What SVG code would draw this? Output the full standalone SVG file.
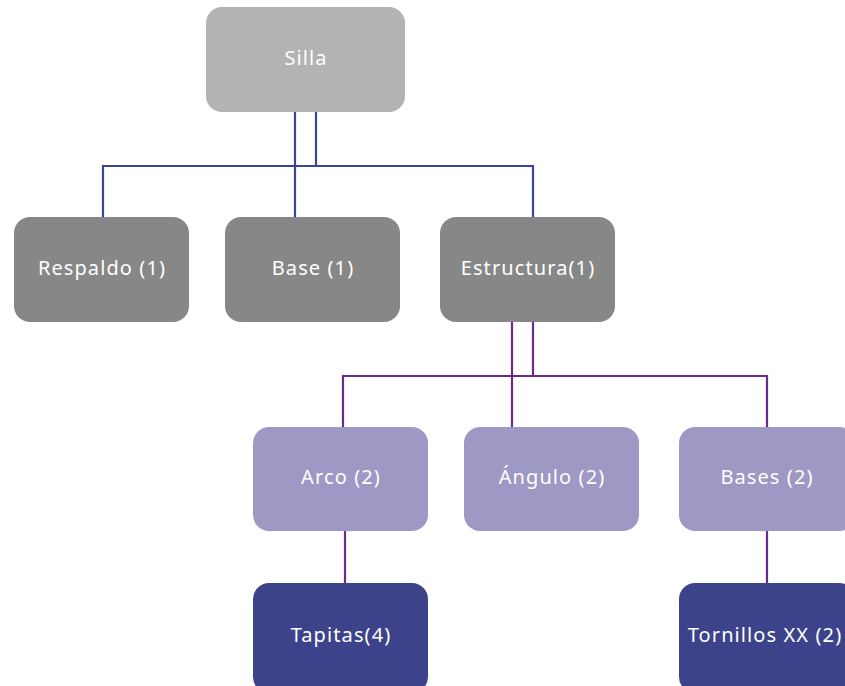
<svg xmlns="http://www.w3.org/2000/svg" width="845" height="686" viewBox="0 0 845 686">
<style>
.t{font-family:"Noto Sans","DejaVu Sans",sans-serif;font-size:20px;letter-spacing:1.1px;fill:#ffffff;text-anchor:middle;dominant-baseline:central}
.l1{stroke:#3b4593;stroke-width:2.2;fill:none}
.l2{stroke:#6b2a8e;stroke-width:2.2;fill:none}
.g1{fill:#b3b3b3}.g2{fill:#878787}.g3{fill:#9d99c4}.g4{fill:#3d438a}
</style>
<rect width="845" height="686" fill="#ffffff"/>
<g id="connectors">
<path class="l1" d="M295 112V217M316 112V166M103 217V166H533V217"/>
<path class="l2" d="M512 322V427M533 322V376M343 427V376H767V427"/>
<path class="l2" d="M345 531V583M767 531V583"/>
</g>
<g id="silla"><rect class="g1" x="206" y="7" width="199" height="105" rx="16"/><text class="t" x="306" y="57">Silla</text></g>
<g id="respaldo"><rect class="g2" x="14" y="217" width="175" height="105" rx="16"/><text class="t" x="102" y="267">Respaldo (1)</text></g>
<g id="base"><rect class="g2" x="225" y="217" width="175" height="105" rx="16"/><text class="t" x="313" y="267">Base (1)</text></g>
<g id="estructura"><rect class="g2" x="440" y="217" width="175" height="105" rx="16"/><text class="t" x="528" y="267">Estructura(1)</text></g>
<g id="arco"><rect class="g3" x="253" y="427" width="175" height="104" rx="16"/><text class="t" x="341" y="476">Arco (2)</text></g>
<g id="angulo"><rect class="g3" x="464" y="427" width="175" height="104" rx="16"/><text class="t" x="552" y="476">Ángulo (2)</text></g>
<g id="bases"><rect class="g3" x="679" y="427" width="176" height="104" rx="16"/><text class="t" x="767" y="476">Bases (2)</text></g>
<g id="tapitas"><rect class="g4" x="253" y="583" width="175" height="110" rx="16"/><text class="t" x="341" y="634">Tapitas(4)</text></g>
<g id="tornillos"><rect class="g4" x="679" y="583" width="176" height="110" rx="16"/><text class="t" x="765" y="634">Tornillos XX (2)</text></g>
</svg>
